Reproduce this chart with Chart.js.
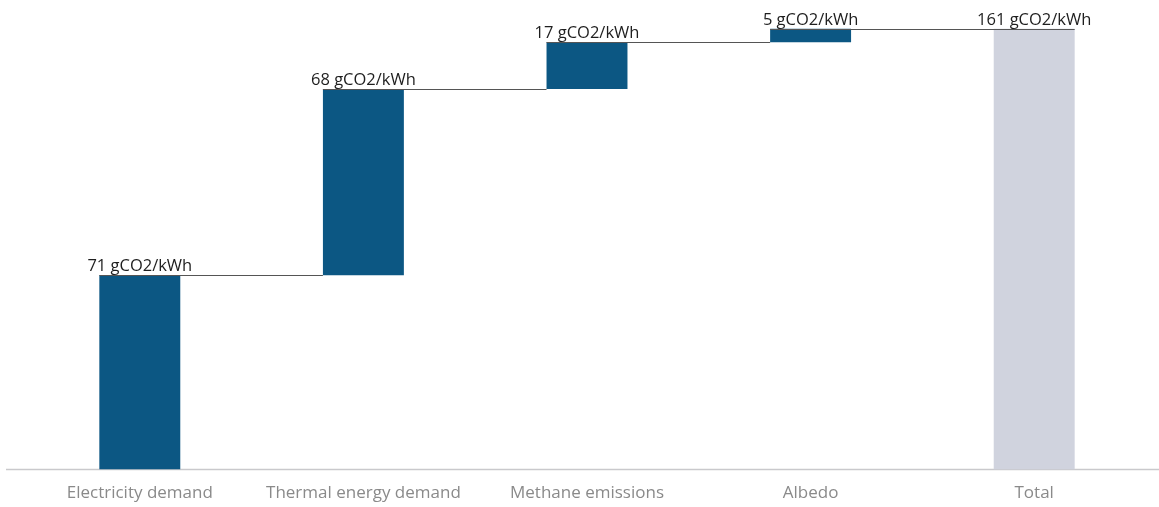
<!DOCTYPE html>
<html>
<head>
<meta charset="utf-8">
<script src="https://cdn.jsdelivr.net/npm/chart.js@4"></script>
<style>
  html, body { margin: 0; padding: 0; background: #ffffff; }
  #wrap { width: 1159px; height: 507px; position: relative; }
</style>
</head>
<body>
<div id="wrap"><canvas id="chart"></canvas></div>
<script>
// Emission contributions (gCO2/kWh)
const categories = ['Electricity demand', 'Thermal energy demand', 'Methane emissions', 'Albedo', 'Total'];
const increments = [71, 68, 17, 5];
const total = 161;
const unit = 'gCO2/kWh';

const stepColor = '#0c5783';
const totalColor = '#d0d3de';

// Floating ranges for the waterfall steps, then the full-height total bar
const ranges = [];
const labelValues = [];
let running = 0;
increments.forEach(v => {
  ranges.push([running, running + v]);
  labelValues.push(v);
  running += v;
});
ranges.push([0, total]);
labelValues.push(total);

const colors = categories.map((c, i) => i === categories.length - 1 ? totalColor : stepColor);

const FONT = '"Open Sans", "DejaVu Sans", sans-serif';

// Baseline across the full width, connector lines between steps and value labels
const waterfallDecor = {
  id: 'waterfallDecor',
  beforeDatasetsDraw(chart) {
    const { ctx } = chart;
    const y0 = chart.scales.y.getPixelForValue(0);
    ctx.save();
    ctx.strokeStyle = '#c9c9cc';
    ctx.lineWidth = 1.5;
    ctx.beginPath();
    ctx.moveTo(6, y0);
    ctx.lineTo(chart.width, y0);
    ctx.stroke();
    ctx.restore();
  },
  afterDatasetsDraw(chart) {
    const { ctx } = chart;
    const meta = chart.getDatasetMeta(0);
    const bars = meta.data;
    ctx.save();
    ctx.strokeStyle = '#555555';
    ctx.lineWidth = 1;
    for (let i = 0; i < bars.length - 1; i++) {
      const a = bars[i].getProps(['x', 'y', 'width'], true);
      const b = bars[i + 1].getProps(['x', 'y', 'width'], true);
      const yTop = Math.round(a.y) + 0.5;
      const x1 = a.x - a.width / 2;
      const x2 = (i + 1 === bars.length - 1) ? b.x + b.width / 2 : b.x - b.width / 2;
      ctx.beginPath();
      ctx.moveTo(x1, yTop);
      ctx.lineTo(x2, yTop);
      ctx.stroke();
    }
    ctx.fillStyle = '#1e1e1e';
    ctx.font = '16.5px ' + FONT;
    ctx.textAlign = 'center';
    ctx.textBaseline = 'alphabetic';
    bars.forEach((bar, i) => {
      const p = bar.getProps(['x', 'y'], true);
      ctx.fillText(labelValues[i] + ' ' + unit, p.x, p.y - 4);
    });
    ctx.restore();
  }
};

new Chart(document.getElementById('chart'), {
  type: 'bar',
  data: {
    labels: categories,
    datasets: [{
      data: ranges,
      backgroundColor: colors,
      borderWidth: 0,
      borderSkipped: false,
      categoryPercentage: 1,
      barPercentage: 0.362
    }]
  },
  options: {
    responsive: true,
    maintainAspectRatio: false,
    animation: false,
    layout: { padding: { left: 28, right: 13, top: 4, bottom: -9 } },
    plugins: {
      legend: { display: false },
      tooltip: { enabled: false }
    },
    scales: {
      x: {
        grid: { display: false, drawTicks: false },
        border: { display: false },
        ticks: {
          color: '#8a8a8a',
          font: { family: FONT, size: 17 },
          padding: 13,
          maxRotation: 0,
          autoSkip: false
        }
      },
      y: {
        display: false,
        min: 0,
        max: 170
      }
    }
  },
  plugins: [waterfallDecor]
});
</script>
</body>
</html>
